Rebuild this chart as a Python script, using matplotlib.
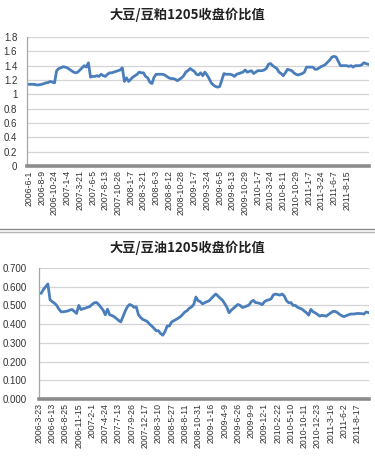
import numpy as np
import matplotlib
matplotlib.use("Agg")
import matplotlib.pyplot as plt
from matplotlib.lines import Line2D

plt.rcParams['font.family'] = ['Liberation Sans', 'DejaVu Sans']

# --- data ---
title_meal = '大豆/豆粕1205收盘价比值'
title_oil = '大豆/豆油1205收盘价比值'

meal_labels = ['2006-6-1', '2006-8-9', '2006-10-24', '2007-1-4', '2007-3-21', '2007-6-5',
               '2007-8-13', '2007-10-26', '2008-1-7', '2008-3-21', '2008-6-3', '2008-8-12',
               '2008-10-28', '2009-1-7', '2009-3-24', '2009-6-5', '2009-8-13', '2009-10-29',
               '2010-1-7', '2010-3-24', '2010-8-11', '2010-10-29', '2011-1-7', '2011-3-24',
               '2011-6-7', '2011-8-15']

meal_ratio = [1.14, 1.14, 1.14, 1.135, 1.13, 1.135, 1.14, 1.15, 1.16, 1.165,
              1.18, 1.17, 1.16, 1.33, 1.36, 1.37, 1.385, 1.38, 1.37, 1.35,
              1.33, 1.31, 1.30, 1.31, 1.34, 1.37, 1.40, 1.38, 1.44, 1.24,
              1.25, 1.25, 1.26, 1.25, 1.28, 1.26, 1.25, 1.28, 1.30, 1.30,
              1.31, 1.32, 1.33, 1.34, 1.37, 1.18, 1.23, 1.18, 1.21, 1.24,
              1.26, 1.28, 1.31, 1.30, 1.30, 1.25, 1.23, 1.17, 1.15, 1.24,
              1.28, 1.28, 1.28, 1.28, 1.27, 1.25, 1.23, 1.22, 1.22, 1.21,
              1.19, 1.21, 1.23, 1.26, 1.31, 1.33, 1.36, 1.34, 1.32, 1.28,
              1.27, 1.30, 1.26, 1.31, 1.27, 1.22, 1.16, 1.13, 1.11, 1.10,
              1.11, 1.20, 1.29, 1.28, 1.28, 1.28, 1.27, 1.25, 1.28, 1.29,
              1.30, 1.31, 1.34, 1.31, 1.32, 1.33, 1.29, 1.31, 1.33, 1.33,
              1.33, 1.34, 1.36, 1.42, 1.43, 1.40, 1.38, 1.36, 1.31, 1.29,
              1.26, 1.30, 1.35, 1.34, 1.33, 1.30, 1.28, 1.27, 1.28, 1.29,
              1.31, 1.38, 1.38, 1.38, 1.38, 1.35, 1.35, 1.37, 1.39, 1.40,
              1.42, 1.45, 1.48, 1.52, 1.53, 1.52, 1.46, 1.40, 1.40, 1.40,
              1.40, 1.39, 1.40, 1.38, 1.40, 1.40, 1.40, 1.41, 1.44, 1.43,
              1.42]

oil_labels = ['2006-3-23', '2006-6-13', '2006-8-25', '2006-11-15', '2007-2-1', '2007-4-24',
              '2007-7-13', '2007-9-26', '2007-12-17', '2008-3-10', '2008-5-27', '2008-8-11',
              '2008-10-31', '2009-1-16', '2009-4-9', '2009-6-26', '2009-9-9', '2009-12-1',
              '2010-2-22', '2010-5-10', '2010-10-11', '2010-12-23', '2011-3-16', '2011-6-2',
              '2011-8-17']

oil_ratio = [0.565, 0.565, 0.585, 0.60, 0.615, 0.53, 0.52, 0.512, 0.50, 0.48,
             0.466, 0.466, 0.468, 0.47, 0.476, 0.478, 0.468, 0.457, 0.50, 0.478,
             0.482, 0.486, 0.49, 0.494, 0.505, 0.514, 0.516, 0.505, 0.49, 0.475,
             0.45, 0.48, 0.45, 0.446, 0.44, 0.43, 0.42, 0.412, 0.44, 0.47,
             0.493, 0.505, 0.50, 0.49, 0.493, 0.45, 0.435, 0.425, 0.42, 0.414,
             0.40, 0.39, 0.378, 0.365, 0.365, 0.35, 0.341, 0.36, 0.39, 0.39,
             0.412, 0.418, 0.425, 0.432, 0.44, 0.452, 0.465, 0.472, 0.485, 0.492,
             0.505, 0.545, 0.525, 0.52, 0.508, 0.515, 0.52, 0.525, 0.538, 0.55,
             0.561, 0.55, 0.538, 0.528, 0.51, 0.49, 0.461, 0.475, 0.485, 0.496,
             0.505, 0.50, 0.489, 0.492, 0.497, 0.502, 0.52, 0.527, 0.515, 0.514,
             0.51, 0.504, 0.52, 0.527, 0.53, 0.535, 0.556, 0.561, 0.558, 0.555,
             0.561, 0.55, 0.525, 0.514, 0.515, 0.50, 0.50, 0.49, 0.485, 0.48,
             0.47, 0.461, 0.448, 0.479, 0.466, 0.46, 0.452, 0.443, 0.447, 0.445,
             0.443, 0.452, 0.46, 0.468, 0.468, 0.462, 0.452, 0.445, 0.44, 0.445,
             0.45, 0.454, 0.454, 0.455, 0.457, 0.457, 0.456, 0.454, 0.465, 0.462]

meal_yticks = [0, 0.2, 0.4, 0.6, 0.8, 1.0, 1.2, 1.4, 1.6, 1.8]
meal_yticklabels = ['0', '0.2', '0.4', '0.6', '0.8', '1', '1.2', '1.4', '1.6', '1.8']
oil_yticks = [0, 0.1, 0.2, 0.3, 0.4, 0.5, 0.6, 0.7]
label_step = 6

LINE = '#4a7ebb'
GRID = '#d4d4d4'
AXIS = '#8c8c8c'
W, H = 375, 459


def style_axis(ax, values, labels, yticks, yticklabels, ylim, xlim, ypad):
    x = np.arange(len(values))
    ax.plot(x, values, color=LINE, lw=2.0, solid_joinstyle='round')
    ax.set_xlim(*xlim)
    ax.set_ylim(*ylim)
    ax.set_yticks(yticks)
    ax.set_yticklabels(yticklabels, fontsize=7, color='#333333')
    ax.set_xticks(x[::label_step][:len(labels)])
    ax.set_xticklabels(labels, rotation=90, fontsize=6.3, color='#333333')
    ax.tick_params(axis='x', length=0, pad=3)
    ax.tick_params(axis='y', length=0, pad=ypad)
    ax.grid(axis='y', color=GRID, lw=0.9)
    ax.set_axisbelow(True)
    for s in ['top', 'right']:
        ax.spines[s].set_visible(False)
    ax.spines['left'].set_color('#a6a6a6')
    ax.spines['left'].set_linewidth(0.9)
    ax.spines['bottom'].set_color(AXIS)
    ax.spines['bottom'].set_linewidth(2.6)


fig = plt.figure(figsize=(W / 100, H / 100), dpi=100)

ax1 = fig.add_axes([27 / W, (H - 166) / H, 342 / W, 129 / H])
style_axis(ax1, meal_ratio, meal_labels, meal_yticks, meal_yticklabels,
           (0, 1.8), (-1, 160.5), 7)

ax2 = fig.add_axes([39 / W, (H - 399) / H, 330 / W, 131 / H])
style_axis(ax2, oil_ratio, oil_labels, oil_yticks, ['%.3f' % v for v in oil_yticks],
           (0, 0.7), (0, 149.3), 9)

fig.text(187 / W, 1 - 15 / H, title_meal, ha='center', va='center', fontsize=9.5,
         fontweight='bold', family=['Noto Sans CJK SC', 'DejaVu Sans'], color='#222222')
fig.text(187 / W, 1 - 248 / H, title_oil, ha='center', va='center', fontsize=9.5,
         fontweight='bold', family=['Noto Sans CJK SC', 'DejaVu Sans'], color='#222222')

# separator between the two charts
fig.add_artist(Line2D([0, 1], [1 - 229 / H] * 2, color='#8a8a8a', lw=1.0))
fig.add_artist(Line2D([0, 1], [1 - 232 / H] * 2, color='#b5b5b5', lw=1.0))

fig.savefig('out.png', dpi=100)
